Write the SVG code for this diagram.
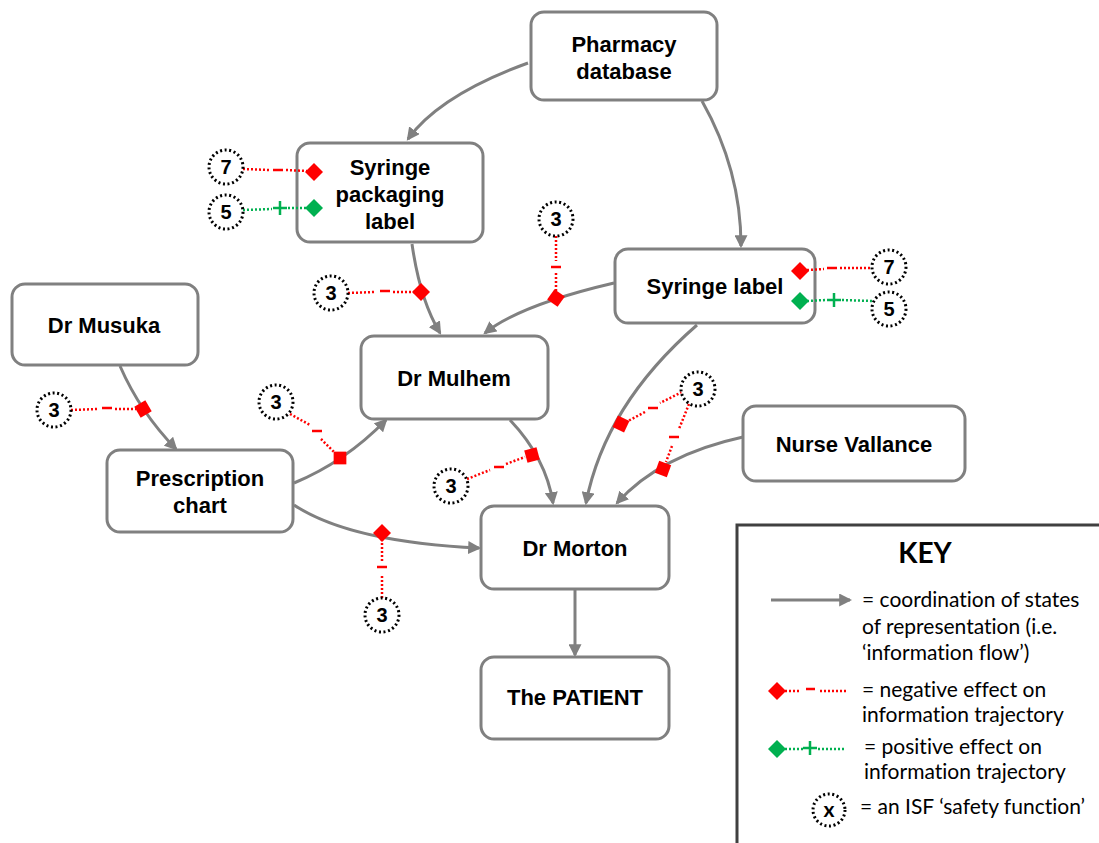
<svg xmlns="http://www.w3.org/2000/svg" width="1099" height="843" viewBox="0 0 1099 843">
  <defs>
    <marker id="arr" viewBox="0 0 12 12" refX="10" refY="6" markerWidth="13" markerHeight="13" markerUnits="userSpaceOnUse" orient="auto">
      <path d="M0,0 L12,6 L0,12 Z" fill="#808080"/>
    </marker>
  </defs>
  <style>
    .node rect { fill: #ffffff; stroke: #808080; stroke-width: 3; }
    .node text { font-family: "Liberation Sans", Arial, sans-serif; font-weight: bold; font-size: 22px; fill: #000; text-anchor: middle; }
    .flow { fill: none; stroke: #808080; stroke-width: 3; marker-end: url(#arr); }
    .neg { fill: none; stroke: #ff0000; stroke-width: 2.5; stroke-dasharray: 2 2; }
    .pos { fill: none; stroke: #00b050; stroke-width: 2.5; stroke-dasharray: 2 2; }
    .minus { stroke: #ff0000; stroke-width: 2.5; }
    .plus { stroke: #00b050; stroke-width: 2.5; }
    .dneg { fill: #ff0000; }
    .dpos { fill: #00b050; }
    .isf circle { fill: #ffffff; stroke: #000; stroke-width: 3; stroke-dasharray: 2 2.6; }
    .isf text { font-family: "Liberation Sans", Arial, sans-serif; font-weight: bold; font-size: 20px; text-anchor: middle; fill: #000; }
    .key text { font-family: Lato, "Liberation Sans", sans-serif; font-size: 21px; fill: #000; font-variant-ligatures: none; }
    .key .title { font-size: 28px; font-weight: bold; text-anchor: middle; }
  </style>

  <!-- information flow connectors -->
  <g id="connectors">
    <path class="flow" d="M528,63 Q440,95 408,139"/>
    <path class="flow" d="M702,101 Q741,170 741,246"/>
    <path class="flow" d="M412,244 Q420,300 440,333"/>
    <path class="flow" d="M614,283 Q520,305 485,333"/>
    <path class="flow" d="M120,366 Q140,412 176,449"/>
    <path class="flow" d="M294,483 Q345,462 386,420"/>
    <path class="flow" d="M294,505 Q350,542 479,548"/>
    <path class="flow" d="M510,420 Q546,458 553,503"/>
    <path class="flow" d="M697,325 Q605,405 586,503"/>
    <path class="flow" d="M743,437 Q660,455 617,503"/>
    <path class="flow" d="M575,590 L575,655"/>
  </g>

  <!-- nodes -->
  <g id="pharmacy-database" class="node">
    <rect x="531" y="12" width="186" height="88" rx="13"/>
    <text x="624" y="52">Pharmacy</text>
    <text x="624" y="79">database</text>
  </g>
  <g id="syringe-packaging-label" class="node">
    <rect x="297" y="143" width="186" height="99" rx="13"/>
    <text x="390" y="175">Syringe</text>
    <text x="390" y="202">packaging</text>
    <text x="390" y="229">label</text>
  </g>
  <g id="syringe-label" class="node">
    <rect x="615" y="249" width="200" height="74" rx="13"/>
    <text x="715" y="294">Syringe label</text>
  </g>
  <g id="dr-musuka" class="node">
    <rect x="12" y="284" width="186" height="81" rx="13"/>
    <text x="104" y="333">Dr Musuka</text>
  </g>
  <g id="dr-mulhem" class="node">
    <rect x="361" y="336" width="187" height="83" rx="13"/>
    <text x="454" y="386">Dr Mulhem</text>
  </g>
  <g id="prescription-chart" class="node">
    <rect x="107" y="450" width="186" height="82" rx="13"/>
    <text x="200" y="486">Prescription</text>
    <text x="200" y="513">chart</text>
  </g>
  <g id="nurse-vallance" class="node">
    <rect x="743" y="406" width="222" height="75" rx="13"/>
    <text x="854" y="452">Nurse Vallance</text>
  </g>
  <g id="dr-morton" class="node">
    <rect x="481" y="506" width="188" height="83" rx="13"/>
    <text x="575" y="556">Dr Morton</text>
  </g>
  <g id="the-patient" class="node">
    <rect x="481" y="657" width="188" height="82" rx="13"/>
    <text x="575" y="705">The PATIENT</text>
  </g>

  <!-- effects on information trajectories -->
  <g id="effects">
    <!-- syringe packaging label -->
    <path class="neg" d="M243,169 L270,170 M286,170 L307,171"/>
    <line class="minus" x1="273" y1="170" x2="283" y2="170"/>
    <polygon class="dneg" points="0,-9 9,0 0,9 -9,0" transform="translate(314,172)"/>
    <path class="pos" d="M243,210 L272,209 M288,208 L307,208"/>
    <path class="plus" d="M273,208 L287,208 M280,201 L280,215"/>
    <polygon class="dpos" points="0,-9 9,0 0,9 -9,0" transform="translate(314,208)"/>

    <!-- syringe label -->
    <path class="neg" d="M807,270 L824,269 M840,268 L872,268"/>
    <line class="minus" x1="827" y1="268" x2="837" y2="268"/>
    <polygon class="dneg" points="0,-9 9,0 0,9 -9,0" transform="translate(800,271)"/>
    <path class="pos" d="M807,301 L826,300 M842,300 L872,301"/>
    <path class="plus" d="M827,300 L841,300 M834,293 L834,307"/>
    <polygon class="dpos" points="0,-9 9,0 0,9 -9,0" transform="translate(800,301)"/>

    <!-- packaging label to Dr Mulhem -->
    <path class="neg" d="M348,293 L375,292 M393,292 L414,292"/>
    <line class="minus" x1="380" y1="291" x2="390" y2="291"/>
    <polygon class="dneg" points="0,-9 9,0 0,9 -9,0" transform="translate(421,292)"/>

    <!-- syringe label to Dr Mulhem -->
    <path class="neg" d="M556,236 L556,261 M556,273 L556,291"/>
    <line class="minus" x1="551" y1="267" x2="561" y2="267"/>
    <polygon class="dneg" points="0,-9 9,0 0,9 -9,0" transform="translate(556,298) rotate(-10)"/>

    <!-- Dr Musuka to prescription chart -->
    <path class="neg" d="M71,410 L98,409 M115,409 L136,409"/>
    <line class="minus" x1="102" y1="408" x2="112" y2="408"/>
    <polygon class="dneg" points="0,-9 9,0 0,9 -9,0" transform="translate(143,409) rotate(15)"/>

    <!-- prescription chart to Dr Mulhem -->
    <path class="neg" d="M290,414 L310,425 M321,439 L334,452"/>
    <line class="minus" x1="312" y1="431" x2="322" y2="431"/>
    <polygon class="dneg" points="0,-9 9,0 0,9 -9,0" transform="translate(340,458) rotate(45)"/>

    <!-- Dr Mulhem to Dr Morton -->
    <path class="neg" d="M467,479 L490,470 M506,464 L525,457"/>
    <line class="minus" x1="494" y1="467" x2="504" y2="467"/>
    <polygon class="dneg" points="0,-9 9,0 0,9 -9,0" transform="translate(532,455) rotate(30)"/>

    <!-- syringe label and Nurse Vallance to Dr Morton -->
    <path class="neg" d="M682,392 L660,403 M645,412 L628,421"/>
    <line class="minus" x1="648" y1="408" x2="658" y2="408"/>
    <polygon class="dneg" points="0,-9 9,0 0,9 -9,0" transform="translate(621,424) rotate(-20)"/>
    <path class="neg" d="M689,404 L679,429 M672,446 L666,462"/>
    <line class="minus" x1="669" y1="437" x2="679" y2="437"/>
    <polygon class="dneg" points="0,-9 9,0 0,9 -9,0" transform="translate(663,469) rotate(-25)"/>

    <!-- prescription chart to Dr Morton -->
    <path class="neg" d="M382,598 L382,574 M382,561 L382,540"/>
    <line class="minus" x1="377" y1="567" x2="387" y2="567"/>
    <polygon class="dneg" points="0,-9 9,0 0,9 -9,0" transform="translate(382,533)"/>
  </g>

  <!-- ISF safety functions -->
  <g id="isf-packaging-7" class="isf"><circle cx="226" cy="167" r="17"/><text x="226" y="174">7</text></g>
  <g id="isf-packaging-5" class="isf"><circle cx="226" cy="212" r="17"/><text x="226" y="219">5</text></g>
  <g id="isf-label-7" class="isf"><circle cx="889" cy="267" r="17"/><text x="889" y="274">7</text></g>
  <g id="isf-label-5" class="isf"><circle cx="889" cy="309" r="17"/><text x="889" y="316">5</text></g>
  <g id="isf-packaging-mulhem" class="isf"><circle cx="331" cy="293" r="17"/><text x="331" y="300">3</text></g>
  <g id="isf-label-mulhem" class="isf"><circle cx="556" cy="219" r="17"/><text x="556" y="226">3</text></g>
  <g id="isf-musuka" class="isf"><circle cx="54" cy="410" r="17"/><text x="54" y="417">3</text></g>
  <g id="isf-chart-mulhem" class="isf"><circle cx="276" cy="402" r="17"/><text x="276" y="409">3</text></g>
  <g id="isf-mulhem-morton" class="isf"><circle cx="451" cy="486" r="17"/><text x="451" y="493">3</text></g>
  <g id="isf-morton-inputs" class="isf"><circle cx="698" cy="389" r="17"/><text x="698" y="396">3</text></g>
  <g id="isf-chart-morton" class="isf"><circle cx="382" cy="615" r="17"/><text x="382" y="622">3</text></g>

  <!-- key -->
  <g id="key" class="key">
    <rect x="737" y="525" width="370" height="330" fill="#ffffff" stroke="#404040" stroke-width="3"/>
    <text class="title" x="925" y="563">KEY</text>
    <line x1="771" y1="600" x2="850" y2="600" stroke="#808080" stroke-width="3" marker-end="url(#arr)"/>
    <text x="862" y="607">= coordination of states</text>
    <text x="862" y="634">of representation (i.e.</text>
    <text x="862" y="660">‘information flow’)</text>

    <polygon class="dneg" points="0,-9 9,0 0,9 -9,0" transform="translate(777,691)"/>
    <path class="neg" d="M785,691 L801,691 M820,691 L848,691"/>
    <line class="minus" x1="806" y1="689" x2="815" y2="689"/>
    <text x="862" y="697">= negative effect on</text>
    <text x="862" y="722">information trajectory</text>

    <polygon class="dpos" points="0,-9 9,0 0,9 -9,0" transform="translate(777,749)"/>
    <path class="pos" d="M785,749 L803,749 M818,749 L846,749"/>
    <path class="plus" d="M803,748 L817,748 M810,741 L810,755"/>
    <text x="864" y="754">= positive effect on</text>
    <text x="864" y="779">information trajectory</text>

    <g class="isf"><circle cx="829" cy="810" r="16"/><text x="829" y="817">x</text></g>
    <text x="860" y="814">= an ISF ‘safety function’</text>
  </g>
</svg>
